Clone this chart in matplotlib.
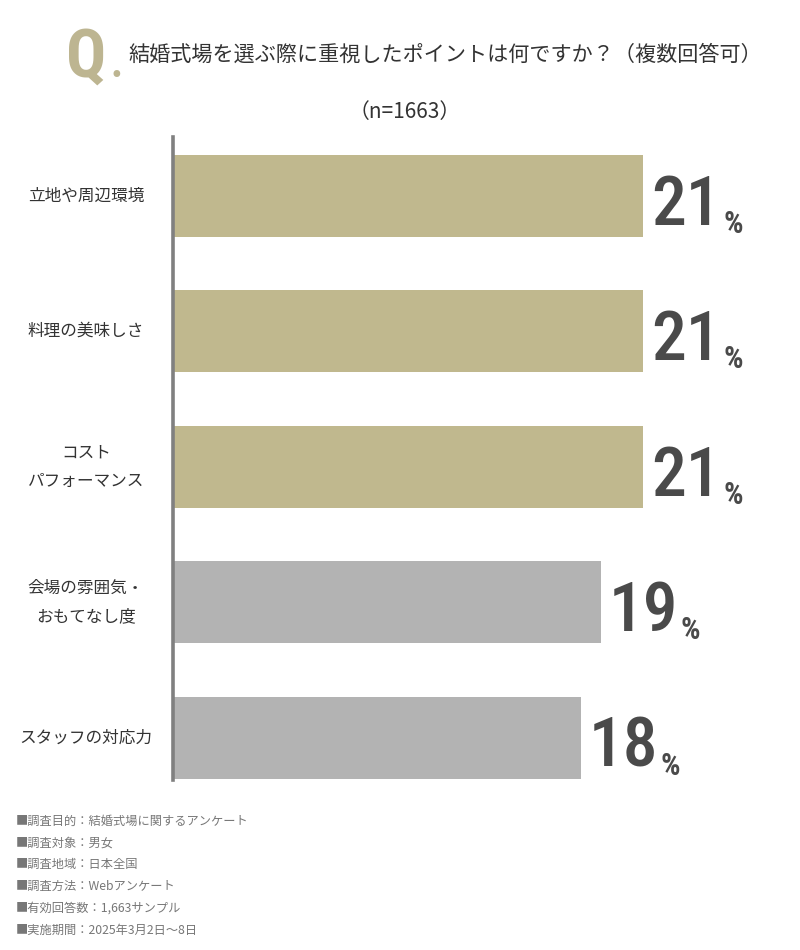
import matplotlib
matplotlib.use("Agg")
import matplotlib.pyplot as plt
from matplotlib import font_manager

# data
categories = ["立地や周辺環境", "料理の美味しさ", "コスト\nパフォーマンス", "会場の雰囲気・\nおもてなし度", "スタッフの対応力"]
values = [21.0, 21.0, 21.0, 19.1, 18.2]
labels = ["21", "21", "21", "19", "18"]
highlight = [True, True, True, False, False]

title = "結婚式場を選ぶ際に重視したポイントは何ですか？（複数回答可）"
sample = "（n=1663）"
notes = ["■調査目的：結婚式場に関するアンケート",
         "■調査対象：男女",
         "■調査地域：日本全国",
         "■調査方法：Webアンケート",
         "■有効回答数：1,663サンプル",
         "■実施期間：2025年3月2日～8日"]

installed = {f.name for f in font_manager.fontManager.ttflist}
num_font = [f for f in ["Roboto Condensed", "Liberation Sans Narrow", "Roboto", "DejaVu Sans"] if f in installed]
jp_font = ["Noto Sans CJK JP", "DejaVu Sans"]
plt.rcParams["font.family"] = jp_font

W, H = 800, 950
fig = plt.figure(figsize=(W / 100, H / 100), dpi=100)

# axes placed in pixel terms: left edge on the vertical line
ax_left, ax_top, ax_bottom = 173, 137, 780
ax = fig.add_axes([ax_left / W, 1 - ax_bottom / H, (W - ax_left) / W, (ax_bottom - ax_top) / H])

gold = "#C0B88E"
grey = "#B3B3B3"
colors = [gold if h else grey for h in highlight]
pos = list(range(len(categories)))
ax.barh(pos, values, height=0.605, color=colors, left=0)
ax.set_xlim(0, (W - ax_left) / 22.4)
ax.set_ylim(4.31, -0.435)

for s in ["top", "right", "bottom"]:
    ax.spines[s].set_visible(False)
ax.spines["left"].set_color("#808080")
ax.spines["left"].set_linewidth(2.6)
ax.set_xticks([])
ax.set_yticks(pos)
ax.set_yticklabels([])
ax.tick_params(axis="y", length=0)

for p, cat in zip(pos, categories):
    ax.annotate(cat, xy=(0, p), xycoords=("axes fraction", "data"),
                xytext=(-(ax_left - 86), 0), textcoords="offset pixels", ha="center", va="center",
                fontsize=12, color="#333333", linespacing=1.9, family=jp_font)

for p, v, lab in zip(pos, values, labels):
    t = ax.annotate(lab, xy=(v, p), xytext=(8, -29), textcoords="offset pixels",
                    ha="left", va="baseline", fontsize=50, color="#4a4a4a",
                    family=num_font, fontweight="medium")
    ax.annotate("%", xy=(1, 0), xycoords=t, xytext=(2, 0), textcoords="offset pixels",
                ha="left", va="bottom", fontsize=22, color="#4a4a4a",
                family=num_font, fontweight="bold")

# title block
fig.text(66 / W, 1 - 77 / H, "Q", fontsize=48, color="#BDB591", family=num_font,
         ha="left", va="baseline", fontweight="bold")
fig.text(110 / W, 1 - 77 / H, ".", fontsize=30, color="#BDB591", family=num_font,
         ha="left", va="baseline", fontweight="bold")
fig.text(128 / W, 1 - 55 / H, title, fontsize=15.2, color="#333333", ha="left", va="center")
fig.text(405 / W, 1 - 112 / H, sample, fontsize=15, color="#333333", ha="center", va="center")

for i, n in enumerate(notes):
    fig.text(16 / W, 1 - (821 + i * 21.8) / H, n, fontsize=8.8, color="#777777",
             ha="left", va="center")

fig.savefig("out.png", dpi=100, facecolor="white")
